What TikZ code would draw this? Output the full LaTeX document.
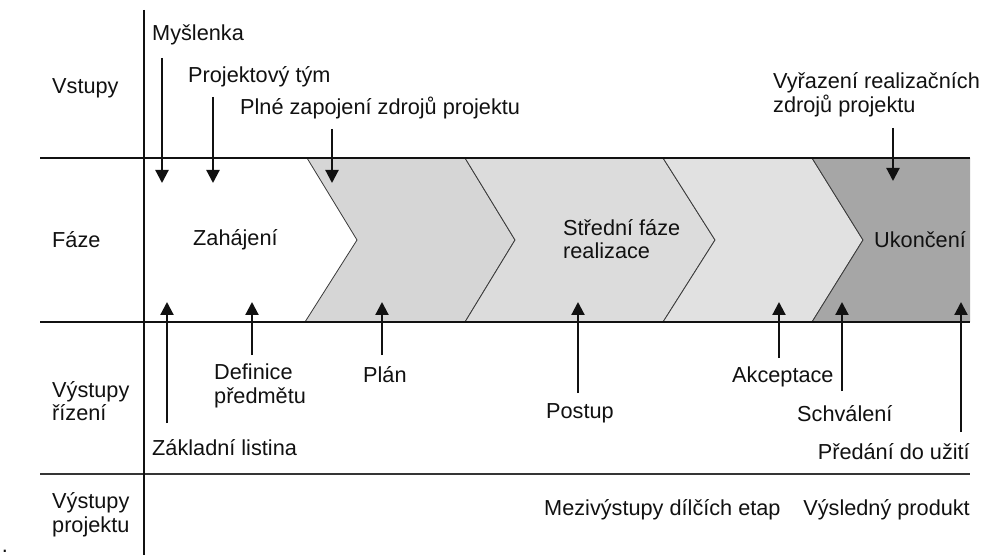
\documentclass[tikz,border=0pt]{standalone}
\usepackage{fontspec}
\setmainfont{Liberation Sans}
\usetikzlibrary{arrows.meta}
\definecolor{gA}{HTML}{D6D6D6}
\definecolor{gB}{HTML}{DCDCDC}
\definecolor{gC}{HTML}{E1E1E1}
\definecolor{gD}{HTML}{A6A6A6}
\definecolor{edge}{HTML}{3A3A3A}
\definecolor{ink}{HTML}{111111}
\tikzset{
  lbl/.style={inner sep=0pt, text=ink, font=\fontsize{21.7bp}{23.5bp}\selectfont, align=left},
  arr/.style={line width=2.2bp, draw=ink, -{Triangle[width=13bp,length=13bp]}},
  mainline/.style={line width=2bp, draw=ink},
  thinline/.style={line width=1.3bp, draw=ink!85},
  chev/.style={draw=edge, line width=0.8bp, line join=miter},
}
\begin{document}
\begin{tikzpicture}[x=1bp,y=-1bp]
\useasboundingbox (0,0) rectangle (990,555);
\fill[white] (0,0) rectangle (990,555);

% phase chevrons
\filldraw[chev, fill=gA] (307,158) -- (465,158) -- (515,240) -- (465,322) -- (305,322) -- (357,240) -- cycle;
\filldraw[chev, fill=gB] (465,158) -- (663,158) -- (715,240) -- (663,322) -- (465,322) -- (515,240) -- cycle;
\filldraw[chev, fill=gC] (663,158) -- (812,158) -- (863,240) -- (812,322) -- (663,322) -- (715,240) -- cycle;
\fill[gD] (812,158) -- (970,158) -- (970,322) -- (812,322) -- (863,240) -- cycle;
\draw[chev] (812,158) -- (863,240) -- (812,322);

% grid lines
\coordinate (hl1) at (40,158);  \coordinate (hr1) at (970,158);
\coordinate (hl2) at (40,322);  \coordinate (hr2) at (970,322);
\coordinate (hl3) at (40,474);  \coordinate (hr3) at (970,474);
\coordinate (vt) at (144,10);   \coordinate (vb) at (144,555);
\draw[mainline] (hl1) -- (hr1);
\draw[mainline] (hl2) -- (hr2);
\draw[thinline] (hl3) -- (hr3);
\draw[mainline] (vt) -- (vb);

% row labels
\node[lbl, anchor=west] (rVstupy) at (52,88) {Vstupy};
\node[lbl, anchor=west] (rFaze) at (52,240) {Fáze};
\node[lbl, anchor=west] (rRizeni) at (52,401) {Výstupy\\řízení};
\node[lbl, anchor=west] (rProjekt) at (52,515) {Výstupy\\projektu};

% phase labels
\node[lbl, anchor=west] (pZah) at (193,240) {Zahájení};
\node[lbl, anchor=west] (pStr) at (563,239) {Střední fáze\\realizace};
\node[lbl, anchor=west] (pUk) at (874,240) {Ukončení};

% inputs
\node[lbl, anchor=west] (iMys) at (152,35) {Myšlenka};
\node[lbl, anchor=west] (iTym) at (188,77) {Projektový tým};
\node[lbl, anchor=west] (iPlne) at (240,108) {Plné zapojení zdrojů projektu};
\node[lbl, anchor=west] (iVyr) at (773,95) {Vyřazení realizačních\\zdrojů projektu};

\coordinate (dMysS) at (162,58);  \coordinate (dMysE) at (162,183);
\coordinate (dTymS) at (213,97);  \coordinate (dTymE) at (213,183);
\coordinate (dPlnS) at (332,129); \coordinate (dPlnE) at (332,183);
\coordinate (dVyrS) at (893,128); \coordinate (dVyrE) at (893,181);
\draw[arr] (dMysS) -- (dMysE);
\draw[arr] (dTymS) -- (dTymE);
\draw[arr] (dPlnS) -- (dPlnE);
\draw[arr] (dVyrS) -- (dVyrE);

% management outputs
\node[lbl, anchor=west] (oDef) at (214,386) {Definice\\předmětu};
\node[lbl, anchor=west] (oPlan) at (363,375) {Plán};
\node[lbl, anchor=west] (oZakl) at (152,448) {Základní listina};
\node[lbl, anchor=west] (oPost) at (546,413) {Postup};
\node[lbl, anchor=west] (oAkc) at (732,377) {Akceptace};
\node[lbl, anchor=west] (oSchv) at (797,414) {Schválení};
\node[lbl, anchor=east] (oPred) at (970,452) {Předání do užití};

\coordinate (uZakS) at (167,423); \coordinate (uZakE) at (167,302);
\coordinate (uDefS) at (252,355); \coordinate (uDefE) at (252,302);
\coordinate (uPlaS) at (382,355); \coordinate (uPlaE) at (382,302);
\coordinate (uPosS) at (578,393); \coordinate (uPosE) at (578,302);
\coordinate (uAkcS) at (779,358); \coordinate (uAkcE) at (779,302);
\coordinate (uSchS) at (842,391); \coordinate (uSchE) at (842,302);
\coordinate (uPreS) at (961,432); \coordinate (uPreE) at (961,302);
\draw[arr] (uZakS) -- (uZakE);
\draw[arr] (uDefS) -- (uDefE);
\draw[arr] (uPlaS) -- (uPlaE);
\draw[arr] (uPosS) -- (uPosE);
\draw[arr] (uAkcS) -- (uAkcE);
\draw[arr] (uSchS) -- (uSchE);
\draw[arr] (uPreS) -- (uPreE);

% project outputs
\node[lbl, anchor=west] (oMezi) at (544,510) {Mezivýstupy dílčích etap};
\node[lbl, anchor=east] (oVysl) at (970,510) {Výsledný produkt};

\node[lbl, anchor=base] (dot) at (5,552) {.};
\end{tikzpicture}
\end{document}
